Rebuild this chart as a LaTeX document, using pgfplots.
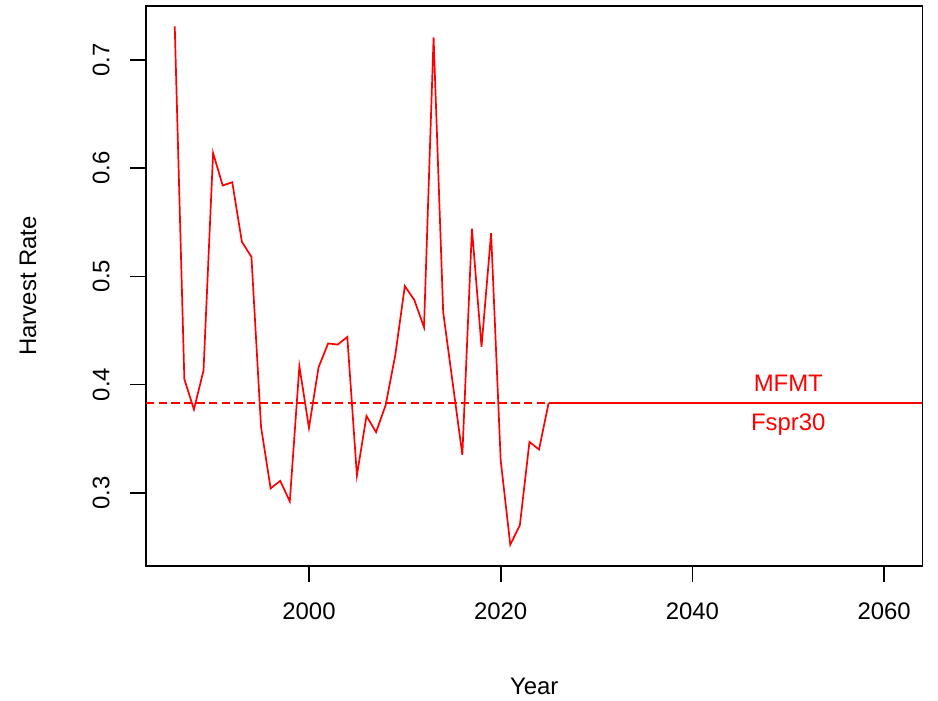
\documentclass[border=0pt]{standalone}
\usepackage{fontspec}
\setmainfont{Liberation Sans}
\usepackage{pgfplots}
\pgfplotsset{compat=1.18}
\usetikzlibrary{calc}

\begin{document}
\fontsize{12pt}{14pt}\selectfont
\begin{tikzpicture}
\begin{axis}[
    scale only axis,
    width=388.25bp, height=280.15bp,
    xmin=1983, xmax=2064,
    ymin=0.2323, ymax=0.7502,
    xtick={2000,2020,2040,2060},
    ytick={0.3,0.4,0.5,0.6,0.7},
    tick pos=left,
    tick align=outside,
    major tick length=8bp,
    every tick/.style={black, line width=0.85bp},
    axis line style={black, line width=0.85bp},
    /pgf/number format/assume math mode=true,
    /pgf/number format/1000 sep={},
    ticklabel style={font=\fontsize{12pt}{14pt}\selectfont},
    xticklabel style={anchor=north, inner sep=0pt},
    xticklabel shift=10bp,
    yticklabel style={rotate=90, anchor=south, inner sep=0pt,
        /pgf/number format/fixed, /pgf/number format/precision=1,
        /pgf/number format/fixed zerofill},
    yticklabel shift=10bp,
    xlabel={Year},
    ylabel={Harvest Rate},
    xlabel style={at={(axis description cs:0.5,0)}, anchor=center, yshift=-60bp, font=\fontsize{12pt}{14pt}\selectfont},
    ylabel style={at={(axis description cs:-0.152,0.5)}, anchor=center, font=\fontsize{12pt}{14pt}\selectfont},
    clip=true,
]
\addplot[red, line width=0.85bp, mark=none] coordinates {
    (1986,0.731) (1987,0.405) (1988,0.377) (1989,0.413) (1990,0.614)
    (1991,0.584) (1992,0.587) (1993,0.532) (1994,0.518) (1995,0.361)
    (1996,0.304) (1997,0.311) (1998,0.292) (1999,0.417) (2000,0.360)
    (2001,0.416) (2002,0.438) (2003,0.437) (2004,0.444) (2005,0.316)
    (2006,0.371) (2007,0.356) (2008,0.381) (2009,0.427) (2010,0.491)
    (2011,0.478) (2012,0.453) (2013,0.721) (2014,0.467) (2015,0.401)
    (2016,0.335) (2017,0.544) (2018,0.435) (2019,0.540) (2020,0.330)
    (2021,0.252) (2022,0.270) (2023,0.347) (2024,0.340) (2025,0.383)
};
% reference: dashed over history, solid over projection
\addplot[red, line width=0.85bp, dash pattern=on 4.2bp off 2.1bp] coordinates {(1983,0.383) (2025,0.383)};
\addplot[red, line width=0.85bp] coordinates {(2025,0.383) (2064,0.383)};
\node[red, anchor=base, inner sep=0pt] at (axis cs:2050,0.383) [yshift=5.8bp] {MFMT};
\node[red, anchor=north, inner sep=0pt] at (axis cs:2050,0.383) [yshift=-5bp] {Fspr30};
\end{axis}
\pgfresetboundingbox
\path[use as bounding box] ($(current axis.south west)+(-73bp,-67.5bp)$) rectangle ($(current axis.south west)+(396bp,283bp)$);
\end{tikzpicture}
\end{document}
